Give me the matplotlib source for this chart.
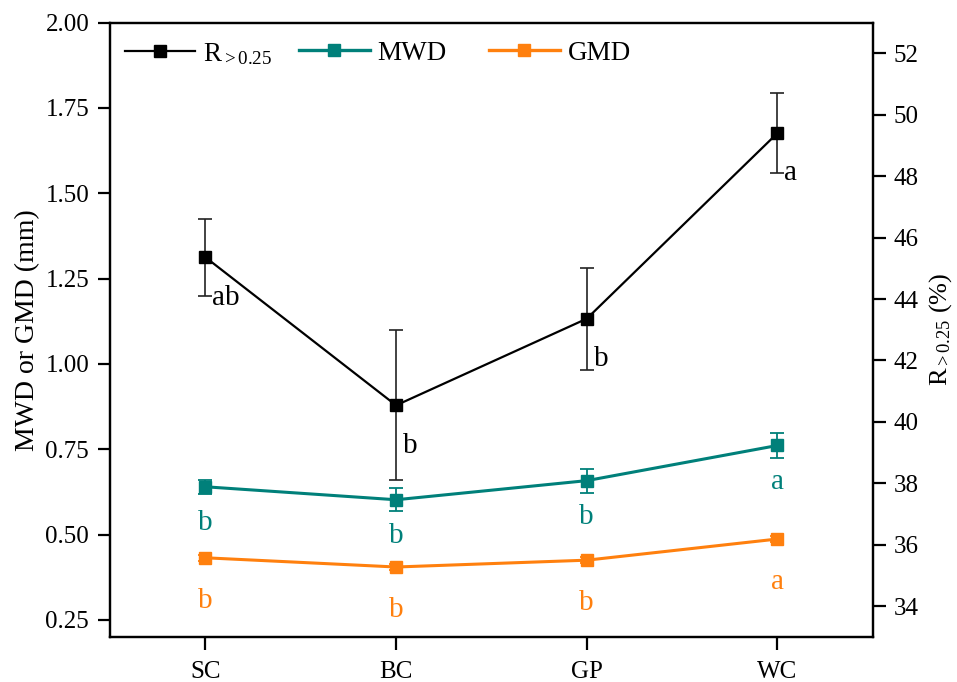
import matplotlib
matplotlib.use("Agg")
import matplotlib.pyplot as plt
from matplotlib.lines import Line2D
from matplotlib.legend import Legend
import numpy as np

plt.rcParams['font.family'] = ['Liberation Serif', 'DejaVu Serif']
plt.rcParams['mathtext.fontset'] = 'custom'
plt.rcParams['mathtext.rm'] = 'Liberation Serif'
plt.rcParams['mathtext.it'] = 'Liberation Serif:italic'

sites = ['SC', 'BC', 'GP', 'WC']

r025 = [45.36, 40.54, 43.36, 49.40]
r025_err = [1.25, 2.44, 1.66, 1.30]
r025_sig = ['ab', 'b', 'b', 'a']

mwd = [0.640, 0.602, 0.658, 0.761]
mwd_err = [0.020, 0.034, 0.035, 0.037]
mwd_sig = ['b', 'b', 'b', 'a']

gmd = [0.432, 0.405, 0.425, 0.487]
gmd_err = [0.008, 0.008, 0.008, 0.008]
gmd_sig = ['b', 'b', 'b', 'a']

teal = '#00807a'
orange = '#ff800e'

fig = plt.figure(figsize=(9.57, 6.82), dpi=100)
ax = fig.add_axes([0.115, 0.066, 0.797, 0.901])
ax2 = ax.twinx()
x = np.arange(len(sites))

ax.errorbar(x, mwd, yerr=mwd_err, color=teal, lw=2.2, marker='s',
            ms=9, capsize=5, elinewidth=1.3, capthick=1.3)
ax.errorbar(x, gmd, yerr=gmd_err, color=orange, lw=2.2, marker='s',
            ms=9, capsize=5, elinewidth=1.3, capthick=1.3)
ax2.errorbar(x, r025, yerr=r025_err, color='black', lw=1.6, marker='s',
             ms=9, capsize=5, elinewidth=1.2, capthick=1.2, ecolor='#222222')

# significance letters
for i in range(len(sites)):
    ax.annotate(mwd_sig[i], (x[i], mwd[i]), xytext=(0, -26), textcoords='offset points',
                ha='center', va='center', color=teal, fontsize=21)
    ax.annotate(gmd_sig[i], (x[i], gmd[i]), xytext=(0, -31), textcoords='offset points',
                ha='center', va='center', color=orange, fontsize=21)
    ax2.annotate(r025_sig[i], (x[i], r025[i]), xytext=(5, -29), textcoords='offset points',
                 ha='left', va='center', color='black', fontsize=21)

ax.set_xlim(-0.5, 3.5)
ax.set_ylim(0.2, 2.0)
ax2.set_ylim(33, 53)
ax.set_xticks(x)
ax.set_xticklabels(sites)
ax.set_yticks(np.arange(0.25, 2.01, 0.25))
ax.set_yticklabels([f'{v:.2f}' for v in np.arange(0.25, 2.01, 0.25)])
ax2.set_yticks(np.arange(34, 53, 2))

for a in (ax, ax2):
    for s in a.spines.values():
        s.set_linewidth(1.6)
    a.tick_params(direction='out', length=9, width=1.6, labelsize=18, pad=6)
ax.tick_params(axis='x', pad=8)

ax.set_ylabel('MWD or GMD (mm)', fontsize=20, labelpad=4)
ax2.set_ylabel(r'R$_{>0.25}$ (%)', fontsize=19, labelpad=6)

# one legend per series so each entry sits where it should along the top
entries = [
    (Line2D([], [], color='black', lw=1.6, marker='s', ms=8), r'R$_{>0.25}$', -0.013),
    (Line2D([], [], color=teal, lw=2.4, marker='s', ms=8), 'MWD', 0.216),
    (Line2D([], [], color=orange, lw=2.4, marker='s', ms=8), 'GMD', 0.465),
]
for handle, label, xpos in entries:
    leg = Legend(ax, [handle], [label], loc='upper left', bbox_to_anchor=(xpos, 1.01),
                 frameon=False, fontsize=19.5, handlelength=2.6, handletextpad=0.3)
    ax.add_artist(leg)

fig.savefig('out.png', dpi=100)
